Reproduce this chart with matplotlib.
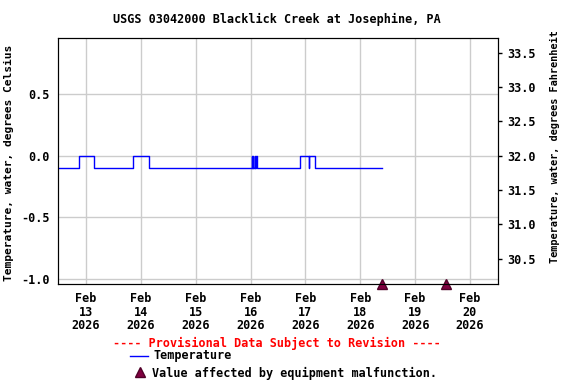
import pandas as pd
import matplotlib.pyplot as plt
from matplotlib.lines import Line2D

# Temperature change points (value holds until the next time)
times = ['2026-02-12 12:00', '2026-02-12 21:00', '2026-02-13 03:30',
         '2026-02-13 20:45', '2026-02-14 03:30',
         '2026-02-16 00:30', '2026-02-16 00:45', '2026-02-16 01:00',
         '2026-02-16 01:15', '2026-02-16 01:45', '2026-02-16 02:00',
         '2026-02-16 02:15', '2026-02-16 03:00',
         '2026-02-16 21:30', '2026-02-17 01:30', '2026-02-17 01:45',
         '2026-02-17 04:00', '2026-02-18 09:30']
temps = [-0.1, 0.0, -0.1,
         0.0, -0.1,
         0.0, -0.1, 0.0,
         -0.1, 0.0, -0.1,
         0.0, -0.1,
         0.0, -0.1, 0.0,
         -0.1, -0.1]

# equipment malfunction flags
flag_times = ['2026-02-18 09:30', '2026-02-19 13:30']
flag_vals = [-1.04, -1.04]

tick_days = ['2026-02-13', '2026-02-14', '2026-02-15', '2026-02-16',
             '2026-02-17', '2026-02-18', '2026-02-19', '2026-02-20']
tick_labels = ['Feb\n13\n2026', 'Feb\n14\n2026', 'Feb\n15\n2026', 'Feb\n16\n2026',
               'Feb\n17\n2026', 'Feb\n18\n2026', 'Feb\n19\n2026', 'Feb\n20\n2026']

ylim_c = (-1.04, 0.954)
f_ticks = [30.5, 31.0, 31.5, 32.0, 32.5, 33.0, 33.5]

t = pd.to_datetime(times)
ft = pd.to_datetime(flag_times)

font = dict(family='DejaVu Sans Mono', weight='bold', size=8.5)
plt.rcParams['font.family'] = 'DejaVu Sans Mono'
plt.rcParams['font.weight'] = 'bold'
plt.rcParams['font.size'] = 8.5

fig = plt.figure(figsize=(5.76, 3.84), dpi=100)
ax = fig.add_axes([58/576, 1-284/384, 440/576, 246/384])

ax.plot(t, temps, drawstyle='steps-post', color='#0000ff', lw=1)
ax.plot(ft, flag_vals, linestyle='none', marker='^', markersize=7,
        color='#800040', markeredgecolor='#500028', clip_on=False, zorder=5)

ax.set_xlim(pd.Timestamp('2026-02-12 11:45'), pd.Timestamp('2026-02-20 12:15'))
ax.set_ylim(*ylim_c)
ax.set_yticks([-1.0, -0.5, 0.0, 0.5])
ax.set_yticklabels(['-1.0', '-0.5', '0.0', '0.5'])
ax.set_xticks(pd.to_datetime(tick_days))
ax.set_xticklabels(tick_labels, linespacing=1.05)
ax.grid(True, color='#cccccc', lw=1)
ax.set_axisbelow(True)
ax.tick_params(axis='both', length=0, pad=6)
ax.set_ylabel('Temperature, water, degrees Celsius', fontsize=8.1, fontweight='bold')
ax.yaxis.set_label_coords(-0.1, 0.494)
for s in ax.spines.values():
    s.set_color('black')

ax2 = ax.twinx()
ax2.set_ylim(ylim_c[0]*1.8+32, ylim_c[1]*1.8+32)
ax2.set_yticks(f_ticks)
ax2.set_yticklabels([f'{v:.1f}' for v in f_ticks])
ax2.tick_params(axis='y', length=3, width=1, pad=4, color='black')
ax2.set_ylabel('Temperature, water, degrees Fahrenheit', fontsize=7.4, fontweight='bold')
ax2.yaxis.set_label_coords(1.118, 0.557)

fig.text(277/576, 1-19/384, 'USGS 03042000 Blacklick Creek at Josephine, PA',
         ha='center', va='center', **font)
fig.text(277/576, 1-343/384, '---- Provisional Data Subject to Revision ----',
         ha='center', va='center', color='red', **font)
fig.add_artist(Line2D([130/576, 148/576], [1-356/384, 1-356/384],
                      color='#0000ff', lw=1, transform=fig.transFigure))
fig.text(153/576, 1-356/384, 'Temperature', ha='left', va='center', **font)
fig.add_artist(Line2D([140/576], [1-372/384], marker='^', markersize=7,
                      color='#800040', markeredgecolor='#500028',
                      transform=fig.transFigure))
fig.text(152/576, 1-373/384, 'Value affected by equipment malfunction.',
         ha='left', va='center', **font)

plt.savefig('out.png', dpi=100)
plt.close()
